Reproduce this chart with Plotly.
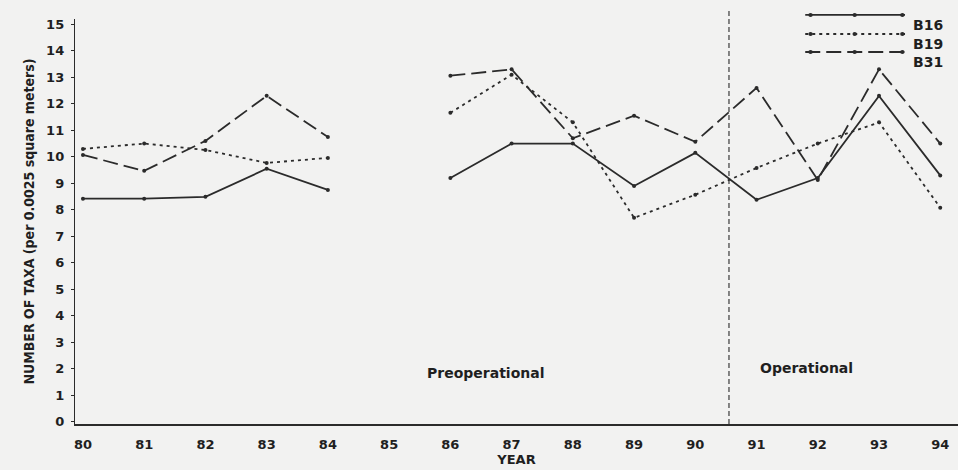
import plotly.graph_objects as go

# Sampling years and number of taxa per station (no samples in 1985)
years = [80, 81, 82, 83, 84, 85, 86, 87, 88, 89, 90, 91, 92, 93, 94]
b16 = [8.42, 8.42, 8.49, 9.55, 8.75, None, 9.2, 10.5, 10.5, 8.9, 10.15, 8.38, 9.2, 12.3, 9.3]
b19 = [10.3, 10.5, 10.26, 9.77, 9.96, None, 11.66, 13.1, 11.3, 7.7, 8.57, 9.58, 10.5, 11.3, 8.08]
b31 = [10.07, 9.47, 10.6, 12.3, 10.75, None, 13.06, 13.3, 10.7, 11.55, 10.57, 12.6, 9.13, 13.3, 10.5]
stations = ["B16", "B19", "B31"]
dashes = ["solid", "3px,4px", "15px,6px"]
y_ticks = list(range(0, 16))
x_ticks = years
plant_start = 90.55  # start of operational period

ink = "#2b2b2b"
text_ink = "#1f1f1f"
font_family = "DejaVu Sans, Liberation Sans, sans-serif"
cond_family = "DejaVu Sans Condensed, DejaVu Sans, sans-serif"


def bold(size, family=font_family):
    return dict(size=size, color=text_ink, family=family, weight="bold")


fig = go.Figure()
for name, vals, dash in zip(stations, [b16, b19, b31], dashes):
    fig.add_trace(go.Scatter(
        x=years, y=vals, name=name, mode="lines+markers",
        line=dict(color=ink, width=1.8, dash=dash),
        marker=dict(color=ink, size=4),
        connectgaps=False, showlegend=False,
    ))

# operational boundary
fig.add_shape(type="line", xref="x", yref="paper", x0=plant_start, x1=plant_start,
              y0=0, y1=1.02, line=dict(color=ink, width=1.1, dash="5px,3px"))

# period labels
fig.add_annotation(x=86.57, y=1.85, xref="x", yref="y", text="Preoperational",
                   showarrow=False, font=bold(14))
fig.add_annotation(x=91.02, y=2.05, xref="x", yref="y", text="Operational",
                   xanchor="left", showarrow=False, font=bold(14))

# hand-drawn key with long line samples
key_x0, key_xm, key_x1, key_tx = 0.827, 0.883, 0.94, 0.947
key_rows = [1.01, 0.963, 0.9185]
for name, dash, ky in zip(stations, dashes, key_rows):
    fig.add_shape(type="line", xref="paper", yref="paper", x0=key_x0, x1=key_x1,
                  y0=ky, y1=ky, line=dict(color=ink, width=1.8, dash=dash))
    for kx in (key_x0 + 0.006, key_xm, key_x1 - 0.003):
        fig.add_shape(type="circle", xref="paper", yref="paper",
                      x0=kx - 0.0025, x1=kx + 0.0025, y0=ky - 0.005, y1=ky + 0.005,
                      fillcolor=ink, line=dict(color=ink, width=0))
    fig.add_annotation(x=key_tx, y=ky, xref="paper", yref="paper", text=name,
                       xanchor="left", showarrow=False, font=bold(14))

fig.update_layout(
    width=958, height=470,
    margin=dict(l=75, r=0, t=19, b=46),
    paper_bgcolor="#f2f2f1", plot_bgcolor="#f2f2f1",
    font=dict(family=font_family, color=text_ink, size=12),
    xaxis=dict(
        range=[79.87, 94.29], tickmode="array", tickvals=x_ticks,
        ticktext=[str(v) for v in x_ticks], showgrid=False, zeroline=False,
        showline=True, linecolor=ink, linewidth=1.6, ticks="",
        ticklabelstandoff=8,
        tickfont=bold(13),
        title=dict(text="YEAR", font=bold(13), standoff=0),
    ),
    yaxis=dict(
        range=[-0.08, 15.2], tickmode="array", tickvals=y_ticks,
        showgrid=False, zeroline=False, showline=True, linecolor=ink, linewidth=1.4,
        ticks="outside", ticklen=3, tickcolor=ink, ticklabelstandoff=4,
        tickfont=bold(13),
        title=dict(text="NUMBER OF TAXA (per 0.0025 square meters)",
                   font=bold(14, cond_family), standoff=8),
    ),
)

fig.write_html("out.html")
